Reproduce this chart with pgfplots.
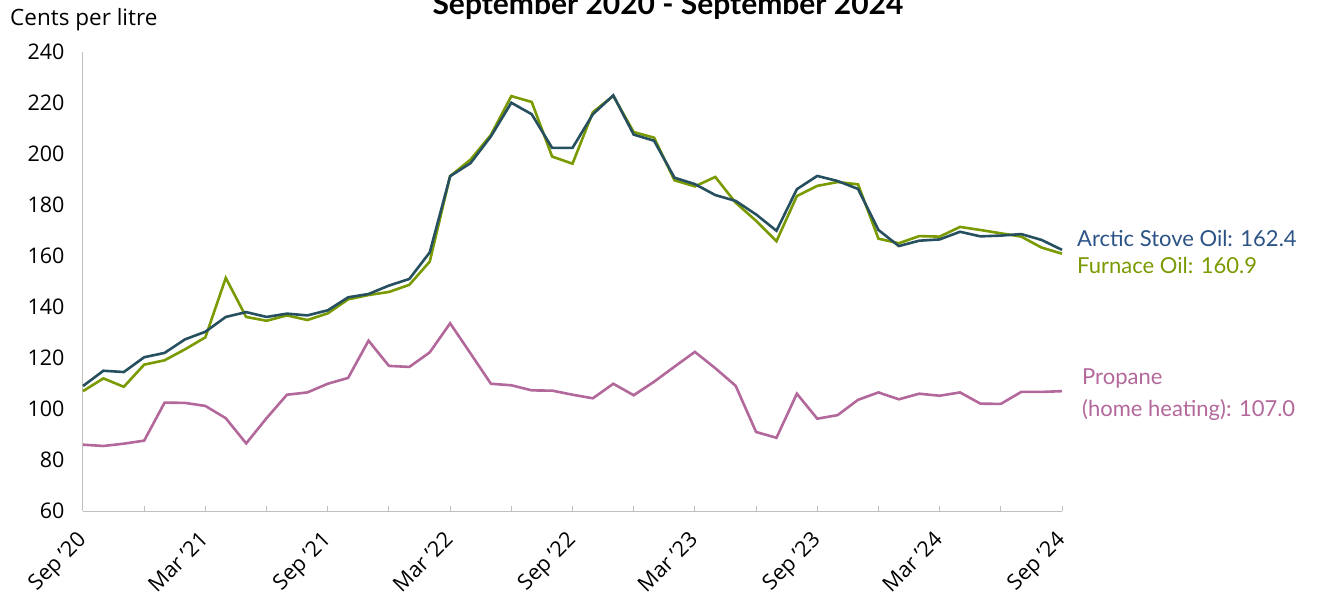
\documentclass[border=0pt]{standalone}
\usepackage{pgfplots}
\pgfplotsset{compat=1.18}
\usepackage{pgfplotstable}
\usepackage{fontspec}
\setmainfont{Open Sans}
\newfontfamily\lato{Lato}
\definecolor{arctic}{HTML}{264F5F}
\definecolor{arcticlab}{HTML}{2C5386}
\definecolor{furnace}{HTML}{7A9A01}
\definecolor{propane}{HTML}{B3689B}
\definecolor{axisgrey}{HTML}{BFBFBF}
\pgfplotstableread{
i a f p
0 109.0 107.0 86.0
1 115.0 112.0 85.5
2 114.5 108.7 86.4
3 120.3 117.4 87.6
4 122.0 119.1 102.5
5 127.3 123.4 102.4
6 130.3 128.1 101.2
7 136.1 151.4 96.4
8 138.0 136.1 86.5
9 136.1 134.6 96.4
10 137.4 136.7 105.6
11 136.7 134.9 106.5
12 138.7 137.5 109.9
13 143.8 143.0 112.2
14 145.1 144.7 126.8
15 148.4 145.9 116.9
16 151.0 148.7 116.5
17 161.4 157.8 122.2
18 191.3 191.3 133.6
19 196.4 197.8 121.8
20 206.9 207.5 109.9
21 220.1 222.7 109.3
22 215.6 220.4 107.3
23 202.4 199.0 107.2
24 202.4 196.2 105.6
25 215.6 216.4 104.2
26 223.0 222.8 109.9
27 207.6 208.6 105.4
28 205.2 206.4 110.7
29 190.7 189.7 116.6
30 188.2 187.3 122.4
31 183.9 191.0 116.0
32 181.6 180.9 109.1
33 176.3 173.8 91.0
34 169.9 165.8 88.7
35 186.2 183.5 106.0
36 191.4 187.5 96.2
37 189.4 189.0 97.6
38 186.3 188.1 103.6
39 170.2 166.8 106.5
40 163.9 165.0 103.8
41 166.0 167.8 106.0
42 166.5 167.6 105.2
43 169.5 171.4 106.5
44 167.7 170.2 102.1
45 168.0 168.9 102.0
46 168.6 167.6 106.7
47 166.3 163.3 106.7
48 162.4 160.9 107.0
}\data
\begin{document}
\begin{tikzpicture}
\begin{axis}[
  scale only axis, width=979pt, height=459pt,
  xmin=0, xmax=48, ymin=60, ymax=240,
  axis x line=bottom, axis y line=left,
  axis line style={draw=axisgrey, line width=1pt, -},
  ytick={60,80,...,240}, ytick style={draw=none},
  xtick={0,6,...,48}, minor xtick={3,9,...,45},
  xticklabels={Sep '20,Mar '21,Sep '21,Mar '22,Sep '22,Mar '23,Sep '23,Mar '24,Sep '24},
  tick align=inside, major tick length=5pt, minor tick length=5pt,
  xtick style={draw=axisgrey, line width=1pt},
  minor tick style={draw=axisgrey, line width=1pt},
  tick label style={font=\fontsize{21.5}{25}\selectfont, text=black},
  xticklabel style={xshift=-7pt, yshift=-16pt, rotate=45, anchor=north east, inner sep=2pt},
  yticklabel style={xshift=-15pt},
  /pgf/number format/assume math mode=true,
  clip=false,
]
\addplot[propane, line width=2.6pt] table[x=i, y=p] {\data};
\addplot[furnace, line width=2.6pt] table[x=i, y=f] {\data};
\addplot[arctic, line width=2.6pt] table[x=i, y=a] {\data};
\node[anchor=base west, inner sep=0pt, text=arcticlab, font=\lato\fontsize{22}{26}\selectfont, xshift=15pt] at (axis cs:48,163.9) {Arctic Stove Oil: 162.4};
\node[anchor=base west, inner sep=0pt, text=furnace, font=\lato\fontsize{22}{26}\selectfont, xshift=15pt] at (axis cs:48,153.3) {Furnace Oil: 160.9};
\node[anchor=base west, inner sep=0pt, text=propane, font=\lato\fontsize{22}{26}\selectfont, xshift=20pt] at (axis cs:48,109.8) {Propane};
\node[anchor=base west, inner sep=0pt, text=propane, font=\lato\fontsize{22}{26}\selectfont, xshift=20pt] at (axis cs:48,96.9) {(home heating): 107.0};
\end{axis}
\node[anchor=base west, inner sep=0pt, font=\fontsize{22.5}{26}\selectfont] at (-73pt,485pt) {Cents per litre};
\node[anchor=base, inner sep=0pt, font=\lato\bfseries\fontsize{30}{36}\selectfont] at (585pt,496pt) {September 2020 - September 2024};
\pgfresetboundingbox
\useasboundingbox (-83pt,-84pt) rectangle (1245pt,511pt);
\end{tikzpicture}
\end{document}
